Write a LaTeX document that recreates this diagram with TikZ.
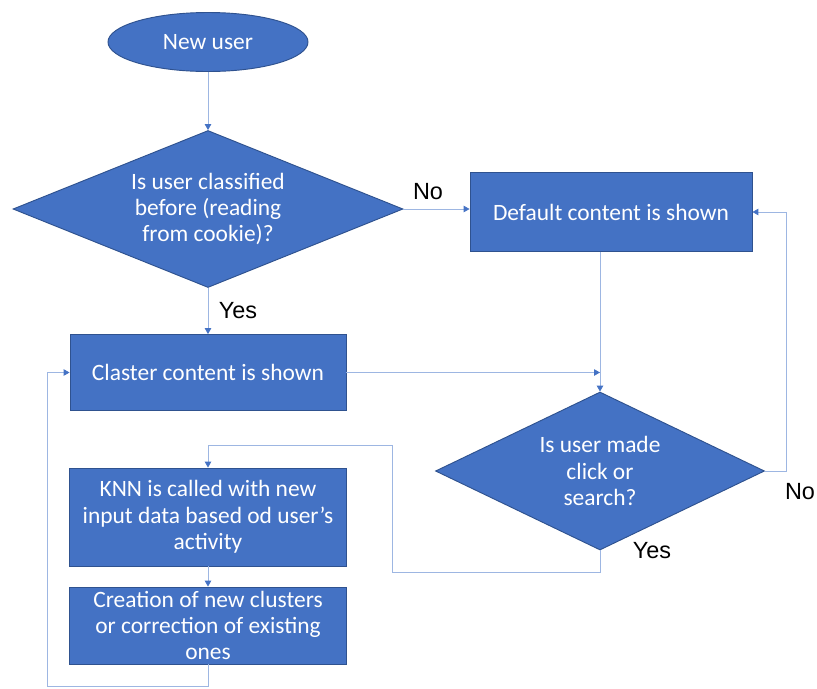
\documentclass[tikz,border=0pt]{standalone}
\usepackage{fontspec}
\setmainfont{Carlito}
\newfontfamily\labelfont{Liberation Sans}
\usetikzlibrary{shapes.geometric,arrows.meta}

\definecolor{boxblue}{HTML}{4472C4}
\definecolor{edgeblue}{HTML}{2F528F}
\definecolor{lineblue}{HTML}{9DB6E2}

\begin{document}
\begin{tikzpicture}[
  x=0.03cm, y=-0.03cm,
  base/.style={draw=edgeblue, line width=0.8pt, fill=boxblue, text=white, align=center,
    inner sep=0pt, font=\fontsize{20}{22.5}\selectfont},
  startnode/.style={base, ellipse, minimum width=6cm, minimum height=1.77cm},
  process/.style={base, rectangle},
  decision/.style={base, diamond},
  arrow/.style={draw=lineblue, line width=0.6pt, -{Triangle[length=5pt,width=5.5pt,color=boxblue]}},
  link/.style={draw=lineblue, line width=0.6pt},
  answer/.style={font=\labelfont\fontsize{20}{22}\selectfont, text=black}
]
\useasboundingbox (0,0) rectangle (817,688);

% Nodes
\node[startnode] (newuser) at (208,42) {New user};
\node[decision, aspect=2.48, minimum width=11.7cm, minimum height=4.71cm] (classified) at (208,209)
  {Is user classified\\before (reading\\from cookie)?};
\node[process, minimum width=8.46cm, minimum height=2.37cm] (default) at (611,212)
  {Default content is shown};
\node[process, minimum width=8.28cm, minimum height=2.28cm] (claster) at (208,372.5)
  {Claster content is shown};
\node[decision, aspect=2.08, minimum width=9.87cm, minimum height=4.74cm] (activity) at (600,471)
  {Is user made\\click or\\search?};
\node[process, minimum width=8.31cm, minimum height=2.94cm] (knn) at (208,517)
  {KNN is called with new\\input data based od user’s\\activity};
\node[process, minimum width=8.31cm, minimum height=2.31cm] (creation) at (208,625.5)
  {Creation of new clusters\\or correction of existing\\ones};

% Turning points
\coordinate (noturn) at (786,471);
\coordinate (yesturn) at (392,572);
\coordinate (yesup) at (392,445);
\coordinate (loopturn) at (47,686);

% Connectors
\draw[arrow] (newuser) -- (classified);
\draw[arrow] (classified.east) -- (classified.east -| default.west);
\draw[arrow] (classified) -- (claster);
\draw[arrow] (activity.north |- default.south) -- (activity.north);
\draw[arrow] (claster) -- (claster.east -| activity.north);
\draw[arrow] (activity.east) -- (noturn) |- (default.east);
\draw[link] (activity.south) |- (yesturn) -- (yesup);
\draw[arrow] (yesup) -| (knn.north);
\draw[arrow] (knn) -- (creation);
\draw[link] (creation.south) |- (loopturn);
\draw[arrow] (loopturn) |- (claster.west);

% Answers
\node[answer] (no1) at (428,192) {No};
\node[answer] (yes1) at (238,311) {Yes};
\node[answer] (no2) at (800,492) {No};
\node[answer] (yes2) at (652,551) {Yes};

\end{tikzpicture}
\end{document}
